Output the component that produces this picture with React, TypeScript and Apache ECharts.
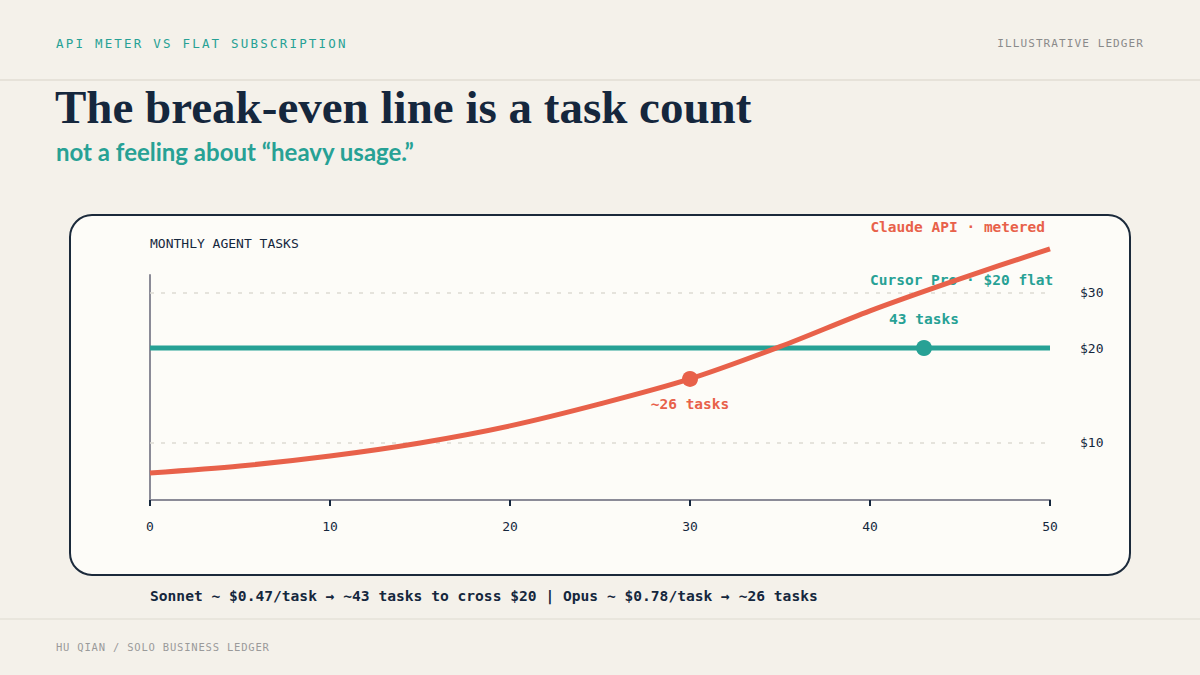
import { useEffect, useRef } from "react";
import * as echarts from "echarts";

// monthly agent tasks (x) and what each plan costs at that volume (y, $)
const taskCounts = [0, 5, 10, 15, 20, 25, 30, 35, 40, 45, 50];
const apiCost = [7.99, 8.41, 9.05, 9.96, 11.29, 13.27, 15.94, 20.2, 26.29, 33.25, 41.47];
const flatTasks = [0, 50];
const flatCost = [20, 20];
const costTicks = [10, 20, 30];

// annotated points
const sonnetBreakEven = [43, 20];
const opusMarkerIndex = 6; // x = 30 on the metered curve

const TEAL = "#27a195";
const RED = "#e8614a";
const NAVY = "#15273d";
const MONO = "'DejaVu Sans Mono', 'Liberation Mono', monospace";

export default function App() {
    const chartRef = useRef<HTMLDivElement>(null);

    useEffect(() => {
        if (!chartRef.current) return;

        const chart = echarts.init(chartRef.current, null, { renderer: "svg" });

        const option = {
            animation: false,
            backgroundColor: "#f4f1ea",
            grid: { left: 150, right: 150, top: 275, bottom: 175 },
            xAxis: {
                type: "value",
                min: 0,
                max: 50,
                interval: 10,
                axisLine: { lineStyle: { color: "#8b8b97", width: 2 } },
                axisTick: { length: 6, lineStyle: { color: NAVY, width: 2 } },
                axisLabel: { margin: 20, color: NAVY, fontFamily: MONO, fontSize: 13 },
                splitLine: { show: false },
            },
            yAxis: {
                type: "log",
                logBase: 10,
                min: 6.55,
                max: 34.2,
                axisLine: { show: true, lineStyle: { color: "#8b8b97", width: 2 } },
                axisTick: { show: false },
                axisLabel: { show: false },
                splitLine: { show: false },
            },
            graphic: [
                {
                    type: "line",
                    z: -5,
                    shape: { x1: 0, y1: 80, x2: 1200, y2: 80 },
                    style: { stroke: "#e6e2d9", lineWidth: 2 },
                },
                {
                    type: "line",
                    z: -5,
                    shape: { x1: 0, y1: 619, x2: 1200, y2: 619 },
                    style: { stroke: "#e6e2d9", lineWidth: 1.5 },
                },
                {
                    type: "rect",
                    z: -5,
                    shape: { x: 70, y: 215, width: 1060, height: 360, r: 22 },
                    style: { fill: "#fdfcf8", stroke: "#1b2a3b", lineWidth: 2 },
                },
                {
                    type: "text",
                    z: 1,
                    x: 55,
                    y: 107,
                    style: {
                        text: "The break-even line is a task count",
                        font: "bold 47px 'Liberation Serif', 'DejaVu Serif', serif",
                        fill: NAVY,
                        textAlign: "left",
                        textVerticalAlign: "middle",
                    },
                },
                {
                    type: "text",
                    z: 1,
                    x: 56,
                    y: 151,
                    style: {
                        text: "not a feeling about \u201cheavy usage.\u201d",
                        font: "bold 24px Lato, 'Noto Sans', sans-serif",
                        fill: TEAL,
                        textAlign: "left",
                        textVerticalAlign: "middle",
                    },
                },
                {
                    type: "text",
                    z: 1,
                    x: 150,
                    y: 243,
                    style: {
                        text: "MONTHLY AGENT TASKS",
                        font: `13px ${MONO}`,
                        fill: NAVY,
                        textAlign: "left",
                        textVerticalAlign: "middle",
                    },
                },
                {
                    type: "text",
                    z: 1,
                    x: 1045,
                    y: 227,
                    style: {
                        text: "Claude API \u00b7 metered",
                        font: `bold 14.5px ${MONO}`,
                        fill: RED,
                        textAlign: "right",
                        textVerticalAlign: "middle",
                    },
                },
                {
                    type: "text",
                    z: 1,
                    x: 870,
                    y: 280,
                    style: {
                        text: "Cursor Pro \u00b7 $20 flat",
                        font: `bold 14.5px ${MONO}`,
                        fill: TEAL,
                        textAlign: "left",
                        textVerticalAlign: "middle",
                    },
                },
                {
                    type: "text",
                    z: 1,
                    x: 150,
                    y: 595,
                    style: {
                        text: "Sonnet ~ $0.47/task \u2192 ~43 tasks to cross $20 | Opus ~ $0.78/task \u2192 ~26 tasks",
                        font: `bold 14.6px ${MONO}`,
                        fill: NAVY,
                        textAlign: "left",
                        textVerticalAlign: "middle",
                    },
                },
            ],
            series: [
                {
                    name: "Cursor Pro",
                    type: "line",
                    data: flatTasks.map((t, i) => [t, flatCost[i]]),
                    showSymbol: false,
                    lineStyle: { color: TEAL, width: 5 },
                    z: 3,
                    markLine: {
                        silent: true,
                        symbol: "none",
                        z: 1,
                        lineStyle: { color: "#dddad2", width: 1.5, type: [4, 7] },
                        label: {
                            position: "end",
                            distance: 30,
                            color: NAVY,
                            fontFamily: MONO,
                            fontSize: 13,
                            formatter: (p: any) => "$" + p.value,
                        },
                        data: costTicks.map((v) => ({ yAxis: v })),
                    },
                },
                {
                    name: "Claude API",
                    type: "line",
                    data: taskCounts.map((t, i) => [t, apiCost[i]]),
                    smooth: 0.3,
                    clip: false,
                    showSymbol: false,
                    lineStyle: { color: RED, width: 5 },
                    z: 4,
                },
                {
                    type: "scatter",
                    data: [sonnetBreakEven],
                    symbolSize: 16,
                    itemStyle: { color: TEAL, opacity: 1 },
                    z: 5,
                    label: {
                        show: true,
                        position: "top",
                        distance: 14,
                        formatter: "43 tasks",
                        color: TEAL,
                        fontFamily: MONO,
                        fontWeight: "bold",
                        fontSize: 14.5,
                    },
                },
                {
                    type: "scatter",
                    data: [[taskCounts[opusMarkerIndex], apiCost[opusMarkerIndex]]],
                    symbolSize: 16,
                    itemStyle: { color: RED, opacity: 1 },
                    z: 5,
                    label: {
                        show: true,
                        position: "bottom",
                        distance: 10,
                        formatter: "~26 tasks",
                        color: RED,
                        fontFamily: MONO,
                        fontWeight: "bold",
                        fontSize: 14.5,
                    },
                },
            ],
        };

        chart.setOption(option);

        return () => {
            chart.dispose();
        };
    }, []);

    const small = {
        position: "absolute" as const,
        fontFamily: MONO,
        lineHeight: "16px",
        whiteSpace: "nowrap" as const,
    };

    return (
        <div style={{ position: "fixed", left: 0, top: 0, width: 1200, height: 675 }}>
            <div ref={chartRef} style={{ width: 1200, height: 675 }} />
            <div style={{ ...small, left: 56, top: 36, fontSize: 12.5, letterSpacing: 2.2, color: TEAL }}>
                API METER VS FLAT SUBSCRIPTION
            </div>
            <div style={{ ...small, right: 56, top: 36, fontSize: 11, letterSpacing: 1.1, color: "#8a8a8a" }}>
                ILLUSTRATIVE LEDGER
            </div>
            <div style={{ ...small, left: 56, top: 639, fontSize: 10.5, letterSpacing: 0.8, color: "#9a9a9a" }}>
                HU QIAN / SOLO BUSINESS LEDGER
            </div>
        </div>
    );
}
